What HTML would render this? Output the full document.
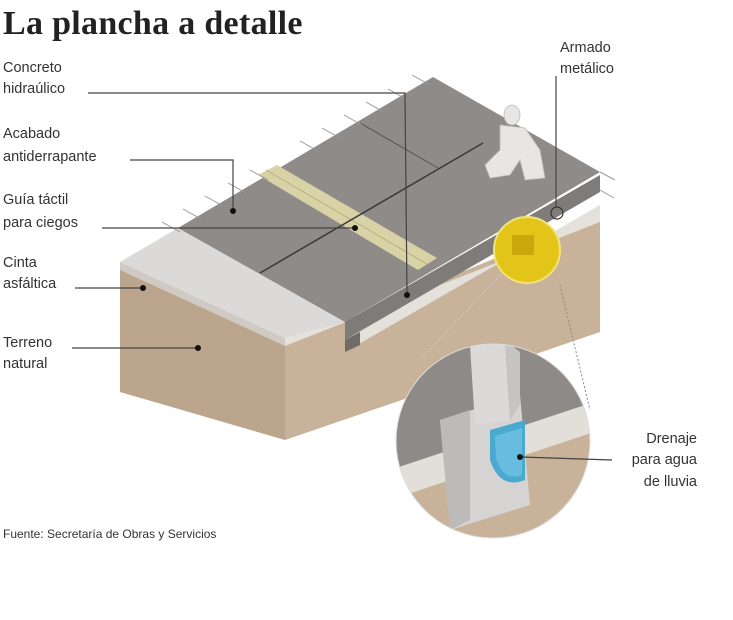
<!DOCTYPE html>
<html><head><meta charset="utf-8"><style>
body{margin:0;background:#fff;}
svg{display:block}
text{font-family:"Liberation Sans",sans-serif;fill:#333;font-size:14.5px}
</style></head><body>
<svg width="733" height="620" viewBox="0 0 733 620" xmlns="http://www.w3.org/2000/svg">
<rect width="733" height="620" fill="#fff"/>
<text x="3" y="34" style="font-family:'Liberation Serif',serif;font-weight:bold;font-size:34px;fill:#222;letter-spacing:0.3px">La plancha a detalle</text>
<!-- block: left face -->
<polygon points="120,268 285,345 285,440 120,392" fill="#bca58d"/>
<polygon points="285,345 600,215 600,332 285,440" fill="#c8b29a"/>
<polygon points="120,262 178,228 345,322 285,338" fill="#dcdad8"/>
<polygon points="120,262 285,338 285,346 120,270" fill="#cfcac4"/>
<polygon points="285,338 345,322 345,352 600,205 600,222 285,346" fill="#e4e0da"/>
<polygon points="345,322 600,175 600,192 345,340" fill="#7e7b79"/>
<polygon points="345,340 360,332 360,345 345,352" fill="#6e6b69"/>
<polygon points="178,228 433,77 600,172 345,322" fill="#8f8b89"/>
<polygon points="258,175 277,165 437,258 418,270" fill="#d9d2a6"/>
<line x1="266" y1="170" x2="427" y2="264" stroke="#b8ae7c" stroke-width="1"/>
<line x1="260" y1="273" x2="483" y2="143" stroke="#3a3a3a" stroke-width="1.5"/>
<line x1="360" y1="123" x2="438" y2="168" stroke="#555" stroke-width="1"/>
<g stroke="#999" stroke-width="1">
<line x1="162" y1="222" x2="180" y2="232"/><line x1="183" y1="209" x2="201" y2="219"/><line x1="205" y1="196" x2="223" y2="206"/><line x1="228" y1="183" x2="246" y2="193"/><line x1="250" y1="170" x2="268" y2="180"/><line x1="300" y1="141" x2="318" y2="151"/><line x1="322" y1="128" x2="340" y2="138"/><line x1="344" y1="115" x2="362" y2="125"/><line x1="366" y1="102" x2="384" y2="112"/><line x1="388" y1="89" x2="406" y2="99"/><line x1="412" y1="75" x2="430" y2="85"/>
<line x1="600" y1="172" x2="615" y2="180"/><line x1="600" y1="190" x2="614" y2="198"/>
</g>
<g fill="#e8e6e3" stroke="#bbb" stroke-width="0.8">
<ellipse cx="512" cy="115" rx="8" ry="10"/>
<path d="M500,125 L525,128 L540,150 L545,178 L525,180 L520,160 L510,175 L490,178 L485,165 L500,150Z"/>
</g>
<circle cx="527" cy="250" r="33" fill="#e3c418" stroke="#f2e27a" stroke-width="2"/>
<rect x="512" y="235" width="22" height="20" fill="#c9a80c"/>
<circle cx="557" cy="213" r="6" fill="none" stroke="#333" stroke-width="1.2"/>
<line x1="560" y1="285" x2="590" y2="410" stroke="#888" stroke-width="1" stroke-dasharray="2,2"/>
<line x1="500" y1="275" x2="420" y2="360" stroke="#ccc" stroke-width="1" stroke-dasharray="2,2"/>
<defs><clipPath id="c"><circle cx="493" cy="441" r="97"/></clipPath></defs>
<g clip-path="url(#c)">
<rect x="390" y="340" width="210" height="210" fill="#c8b29a"/>
<polygon points="390,340 600,340 600,400 390,470" fill="#8e8a88"/>
<polygon points="390,470 600,400 600,430 390,500" fill="#e2ded8"/>
<polygon points="440,420 520,395 530,505 450,530" fill="#d6d4d2"/>
<polygon points="440,420 470,410 470,520 450,530" fill="#bdbbb9"/>
<polygon points="470,345 505,340 510,420 475,425" fill="#dcdad8"/>
<polygon points="505,340 520,352 520,405 510,420" fill="#c7c5c3"/>
<path d="M490,430 L525,420 L525,480 Q500,490 490,460Z" fill="#4aa9cf"/>
<path d="M495,436 L522,428 L522,475 Q503,482 496,458Z" fill="#66bde0"/>
</g>
<circle cx="493" cy="441" r="97" fill="none" stroke="#ddd" stroke-width="1"/>
<text x="3" y="72">Concreto</text><text x="3" y="93">hidraúlico</text>
<text x="3" y="138">Acabado</text><text x="3" y="161">antiderrapante</text>
<text x="3" y="204">Guía táctil</text><text x="3" y="227">para ciegos</text>
<text x="3" y="267">Cinta</text><text x="3" y="288">asfáltica</text>
<text x="3" y="347">Terreno</text><text x="3" y="368">natural</text>
<text x="560" y="52">Armado</text><text x="560" y="73">metálico</text>
<text x="697" y="443" text-anchor="end">Drenaje</text><text x="697" y="464" text-anchor="end">para agua</text><text x="697" y="486" text-anchor="end">de lluvia</text>
<text x="3" y="538" style="font-size:12px">Fuente: Secretaría de Obras y Servicios</text>
<g stroke="#444" stroke-width="1.2" fill="none">
<polyline points="88,93 405,93 407,295"/>
<polyline points="130,160 233,160 233,210"/>
<line x1="102" y1="228" x2="355" y2="228"/>
<line x1="75" y1="288" x2="143" y2="288"/>
<line x1="72" y1="348" x2="198" y2="348"/>
<line x1="556" y1="76" x2="556" y2="208"/>
<line x1="612" y1="460" x2="521" y2="457"/>
</g>
<g fill="#111">
<circle cx="407" cy="295" r="3"/><circle cx="233" cy="211" r="3"/><circle cx="355" cy="228" r="3"/><circle cx="143" cy="288" r="3"/><circle cx="198" cy="348" r="3"/><circle cx="520" cy="457" r="3"/>
</g>
</svg>
</body></html>
